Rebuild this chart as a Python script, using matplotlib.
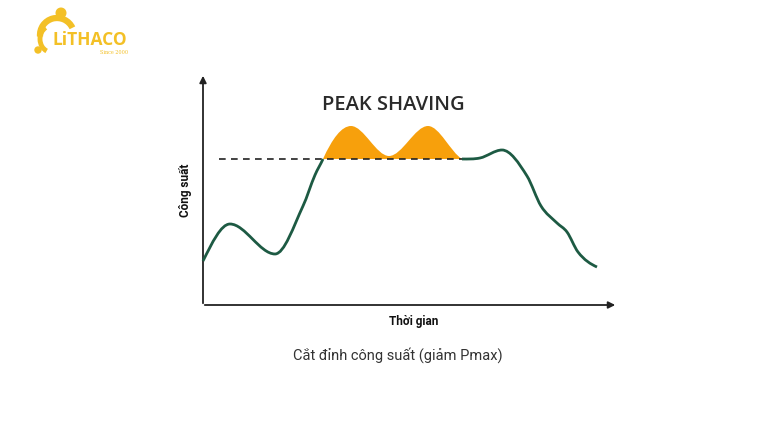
import numpy as np
import matplotlib
matplotlib.use("Agg")
import matplotlib.pyplot as plt
from matplotlib.path import Path
from matplotlib.patches import PathPatch, Arc, Circle

# key points of the load curve (time, power)
load_left_t = [0, 27, 72, 100, 112, 120]
load_left_p = [44, 81, 51, 99, 130, 146]
peak_t = [120, 148, 186, 225, 259]
peak_p = [146, 179, 149, 179, 146]
load_right_t = [259, 277, 299, 324, 338, 354, 364, 375, 394]
load_right_p = [146, 147, 155, 129, 99, 82, 73, 53, 38]
pmax_limit = 146
limit_start, limit_end = 16, 259

title = "PEAK SHAVING"
xlabel = "Thời gian"
ylabel = "Công suất"
caption = "Cắt đỉnh công suất (giảm Pmax)"

GREEN = "#1d5a43"
ORANGE = "#f7a00c"
GOLD = "#f3c026"


def smooth_path(ts, ps, close=False, end_slopes=(None, None)):
    # hermite curve through the points (flat at turning points), drawn as beziers
    t = np.asarray(ts, float)
    p = np.asarray(ps, float)
    n = len(t)
    d = np.diff(p) / np.diff(t)
    m = np.zeros(n)
    for i in range(1, n - 1):
        if d[i - 1] * d[i] > 0:
            m[i] = (d[i - 1] + d[i]) / 2
    m[0] = d[0] if end_slopes[0] is None else end_slopes[0]
    m[-1] = d[-1] if end_slopes[1] is None else end_slopes[1]
    verts = [(t[0], p[0])]
    codes = [Path.MOVETO]
    for i in range(n - 1):
        h = (t[i + 1] - t[i]) / 3
        verts += [(t[i] + h, p[i] + m[i] * h), (t[i + 1] - h, p[i + 1] - m[i + 1] * h), (t[i + 1], p[i + 1])]
        codes += [Path.CURVE4] * 3
    if close:
        verts += [(t[0], p[0]), (t[0], p[0])]
        codes += [Path.LINETO, Path.CLOSEPOLY]
    return Path(verts, codes)


fig = plt.figure(figsize=(7.67, 4.31), dpi=100)
ax = fig.add_axes([0, 0, 1, 1])
ax.set_xlim(-203, 564)
ax.set_ylim(-125, 306)
ax.axis("off")

# axes arrows
ax.annotate("", xy=(0, 232), xytext=(0, -1),
            arrowprops=dict(arrowstyle="-|>", color="#222222", lw=1.3, mutation_scale=10))
ax.annotate("", xy=(415, 0), xytext=(-1, 0),
            arrowprops=dict(arrowstyle="-|>", color="#222222", lw=1.3, mutation_scale=10))

# shaved area
ax.add_patch(PathPatch(smooth_path(peak_t, peak_p, close=True, end_slopes=(2.2, -0.6)),
                       fc=ORANGE, ec="none", zorder=2))

# limit line
ax.plot([limit_start, limit_end], [pmax_limit, pmax_limit], ls=(0, (4, 3.2)), color="#222222", lw=1.2, zorder=3)

# load curve
ax.add_patch(PathPatch(smooth_path(load_left_t, load_left_p, end_slopes=(2.0, 2.2)),
                       fc="none", ec=GREEN, lw=2, zorder=4))
ax.add_patch(PathPatch(smooth_path(load_right_t, load_right_p, end_slopes=(0.0, -0.45)),
                       fc="none", ec=GREEN, lw=2, zorder=4))

ax.text(190, 201, title, fontsize=14.5, fontweight="semibold", family="Open Sans",
        color="#2a2a2a", ha="center", va="center")
ax.text(211, -16, xlabel, fontsize=8.5, fontweight="bold", family="Roboto",
        color="#111111", ha="center", va="center")
ax.text(-17, 116, ylabel, fontsize=8.5, fontweight="bold", family="Roboto",
        color="#111111", ha="center", va="center", rotation=90)
ax.text(195, -49, caption, fontsize=10.5, family="Roboto", color="#333333",
        ha="center", va="center")

# logo
ax.add_patch(Circle((-142, 292), 4.8, color=GOLD))
ax.add_patch(Circle((-165, 255), 3.0, color=GOLD))
ax.add_patch(Arc((-146, 270), 34, 34, theta1=25, theta2=185, color=GOLD, lw=4.5))
ax.add_patch(Arc((-152, 266), 22, 26, theta1=115, theta2=250, color=GOLD, lw=3.5))
ax.text(-150, 266, "LiTHACO", fontsize=12.5, fontweight="bold", family="Open Sans",
        color=GOLD, ha="left", va="center")
ax.text(-75, 253, "Since 2000", fontsize=3.5, family="DejaVu Serif", color=GOLD,
        ha="right", va="center")

fig.savefig("out.png", dpi=100, facecolor="white")
